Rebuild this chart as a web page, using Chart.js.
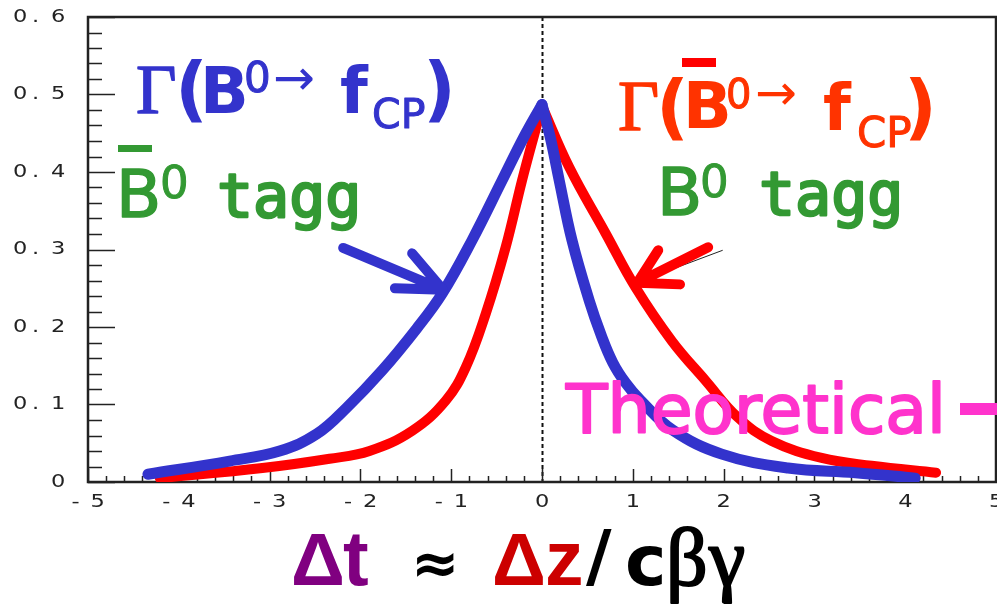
<!DOCTYPE html>
<html>
<head>
<meta charset="utf-8">
<script src="https://cdn.jsdelivr.net/npm/chart.js@4.4.1/dist/chart.umd.min.js"></script>
<style>
  html, body { margin: 0; padding: 0; background: #fff; overflow: hidden; }
  canvas { display: block; }
</style>
</head>
<body>
<canvas id="c" width="997" height="605"></canvas>
<script>
// Decay-time distributions: Γ(B0 → fCP) with B0-bar tag (blue), Γ(B0-bar → fCP) with B0 tag (red)
const dtBarTag   = [-4.34, -3.44, -2.89, -2.48, -2.15, -1.76, -1.38, -1.10, -0.77, -0.44, -0.20, 0.00, 0.10, 0.19, 0.33, 0.52, 0.65, 0.78, 0.92, 1.08, 1.44, 1.98, 2.71, 3.45, 4.11];
const rateBarTag = [0.010, 0.027, 0.040, 0.062, 0.096, 0.144, 0.198, 0.243, 0.312, 0.389, 0.445, 0.487, 0.440, 0.389, 0.312, 0.234, 0.190, 0.154, 0.128, 0.106, 0.067, 0.036, 0.018, 0.012, 0.005];

const dtTag   = [-4.21, -3.08, -2.34, -1.90, -1.43, -1.06, -0.84, -0.62, -0.40, -0.22, -0.07, 0.00, 0.30, 0.70, 1.03, 1.43, 1.80, 2.16, 2.53, 3.08, 3.63, 4.34];
const rateTag = [0.005, 0.018, 0.030, 0.040, 0.066, 0.105, 0.148, 0.217, 0.303, 0.389, 0.455, 0.485, 0.406, 0.321, 0.251, 0.182, 0.131, 0.083, 0.053, 0.031, 0.021, 0.012];

const xTickValues = [-5, -4, -3, -2, -1, 0, 1, 2, 3, 4, 5];
const xTickLabels = ['-5', '-4', '-3', '-2', '-1', '0', '1', '2', '3', '4', '5'];
const yTickValues = [0, 0.1, 0.2, 0.3, 0.4, 0.5, 0.6];
const yTickLabels = ['0', '0.1', '0.2', '0.3', '0.4', '0.5', '0.6'];

const BLUE = '#3333cc';
const RED = '#ff0000';
const ORANGE_RED = '#ff3300';
const GREEN = '#339933';
const MAGENTA = '#ff33cc';

// text helper; `heavy` adds an outline in the fill colour to thicken strokes
function put(ctx, text, x, y, font, color, heavy) {
  ctx.font = font;
  ctx.fillStyle = color;
  ctx.textAlign = 'left';
  ctx.textBaseline = 'alphabetic';
  ctx.fillText(text, x, y);
  if (heavy) {
    ctx.strokeStyle = color;
    ctx.lineWidth = heavy;
    ctx.lineJoin = 'round';
    ctx.strokeText(text, x, y);
  }
}

// spaced, slightly widened axis numbers
const LABEL_PITCH = 19;
const LABEL_GLYPH = 12;
function drawTickText(ctx, text, left, mid) {
  for (let i = 0; i < text.length; i++) {
    ctx.save();
    ctx.translate(left + i * LABEL_PITCH, mid);
    ctx.scale(1.25, 1);
    ctx.fillText(text[i], 0, 0);
    ctx.restore();
  }
}
const tickTextWidth = t => (t.length - 1) * LABEL_PITCH + LABEL_GLYPH;

const framePlugin = {
  id: 'frame',
  beforeDatasetsDraw(chart) {
    const { ctx, chartArea: a, scales: { x, y } } = chart;
    ctx.save();
    // dashed Δt = 0 line
    ctx.strokeStyle = '#111';
    ctx.lineWidth = 2;
    ctx.setLineDash([4, 3]);
    const x0 = Math.round(x.getPixelForValue(0)) + 0.5;
    ctx.beginPath();
    ctx.moveTo(x0, a.top);
    ctx.lineTo(x0, a.bottom);
    ctx.stroke();
    ctx.setLineDash([]);

    // box
    ctx.strokeStyle = '#222';
    ctx.lineWidth = 2.5;
    ctx.strokeRect(a.left, a.top, a.right - a.left, a.bottom - a.top);

    // inward ticks
    ctx.lineWidth = 1.5;
    ctx.beginPath();
    for (let i = -25; i <= 25; i++) {
      const px = Math.round(x.getPixelForValue(i / 5)) + 0.5;
      const len = (i % 5 === 0) ? 13 : 6;
      ctx.moveTo(px, a.bottom);
      ctx.lineTo(px, a.bottom - len);
    }
    for (let i = 0; i <= 30; i++) {
      const py = Math.round(y.getPixelForValue(i / 50)) + 0.5;
      const len = (i % 5 === 0) ? 27 : 14;
      ctx.moveTo(a.left, py);
      ctx.lineTo(a.left + len, py);
    }
    ctx.stroke();

    // tick labels
    ctx.fillStyle = '#222';
    ctx.font = '18px "DejaVu Sans"';
    ctx.textBaseline = 'middle';
    ctx.textAlign = 'left';
    yTickValues.forEach((v, i) => {
      const t = yTickLabels[i];
      drawTickText(ctx, t, 63 - tickTextWidth(t), y.getPixelForValue(v));
    });
    xTickValues.forEach((v, i) => {
      const t = xTickLabels[i];
      drawTickText(ctx, t, x.getPixelForValue(v) - tickTextWidth(t) / 2 - 1, a.bottom + 20);
    });
    ctx.restore();
  },
  afterDatasetsDraw(chart) {
    const { ctx, scales: { x, y } } = chart;
    ctx.save();

    // thin leftover guide line beside the red arrow
    ctx.strokeStyle = '#222';
    ctx.lineWidth = 1;
    ctx.beginPath();
    ctx.moveTo(x.getPixelForValue(1.33), y.getPixelForValue(0.270));
    ctx.lineTo(x.getPixelForValue(1.99), y.getPixelForValue(0.299));
    ctx.stroke();

    // arrows pointing at the curves (given in Δt / rate units)
    const arrow = (pts, color) => {
      const P = pts.map(p => [x.getPixelForValue(p[0]), y.getPixelForValue(p[1])]);
      ctx.strokeStyle = color;
      ctx.lineWidth = 10;
      ctx.lineCap = 'round';
      ctx.lineJoin = 'round';
      ctx.beginPath();
      ctx.moveTo(P[0][0], P[0][1]); ctx.lineTo(P[1][0], P[1][1]);
      ctx.moveTo(P[2][0], P[2][1]); ctx.lineTo(P[1][0], P[1][1]); ctx.lineTo(P[3][0], P[3][1]);
      ctx.stroke();
    };
    arrow([[-2.19, 0.302], [-1.09, 0.248], [-1.43, 0.295], [-1.62, 0.250]], BLUE);
    arrow([[1.83, 0.303], [1.05, 0.257], [1.28, 0.299], [1.52, 0.255]], RED);

    // Γ(B0 → fCP), left
    put(ctx, 'Γ', 136, 113, '70px "Liberation Serif"', BLUE, 1.5);
    put(ctx, '(', 175, 113, 'bold 72px "DejaVu Sans"', BLUE);
    put(ctx, 'B', 200, 113, 'bold 64px "DejaVu Sans"', BLUE);
    put(ctx, '0', 244, 92, '42px "DejaVu Sans"', BLUE, 1);
    put(ctx, '→', 273, 95, '50px "DejaVu Sans"', BLUE);
    put(ctx, 'f', 340, 113, 'bold 64px "DejaVu Sans"', BLUE);
    put(ctx, 'CP', 372, 128, '41px "DejaVu Sans"', BLUE, 1);
    put(ctx, ')', 423, 113, 'bold 72px "DejaVu Sans"', BLUE);

    // B0-bar tagg, left
    ctx.fillStyle = GREEN;
    ctx.fillRect(118, 145, 34, 7);
    put(ctx, 'B', 116, 217, '66px "DejaVu Sans"', GREEN, 1.5);
    put(ctx, '0', 160, 198, '45px "DejaVu Sans"', GREEN, 1);
    put(ctx, 'tagg', 217, 217, '60px "DejaVu Sans Mono"', GREEN, 2.5);

    // Γ(B0-bar → fCP), right
    ctx.fillStyle = RED;
    ctx.fillRect(682, 58, 34, 9);
    put(ctx, 'Γ', 618, 130, '71px "Liberation Serif"', ORANGE_RED, 1.5);
    put(ctx, '(', 656, 131, 'bold 72px "DejaVu Sans"', ORANGE_RED);
    put(ctx, 'B', 683, 128, 'bold 64px "DejaVu Sans"', ORANGE_RED);
    put(ctx, '0', 726, 108, '40px "DejaVu Sans"', ORANGE_RED, 1);
    put(ctx, '→', 755, 110, '50px "DejaVu Sans"', ORANGE_RED);
    put(ctx, 'f', 823, 130, 'bold 64px "DejaVu Sans"', ORANGE_RED);
    put(ctx, 'CP', 857, 147, '42px "DejaVu Sans"', ORANGE_RED, 1);
    put(ctx, ')', 904, 131, 'bold 72px "DejaVu Sans"', ORANGE_RED);

    // B0 tagg, right
    put(ctx, 'B', 657, 215, '66px "DejaVu Sans"', GREEN, 1.5);
    put(ctx, '0', 700, 197, '45px "DejaVu Sans"', GREEN, 1);
    put(ctx, 'tagg', 759, 215, '60px "DejaVu Sans Mono"', GREEN, 2.5);

    // Theoretical
    put(ctx, 'Theoretical', 566, 433, '68px "DejaVu Sans"', MAGENTA, 2);
    ctx.fillStyle = MAGENTA;
    ctx.fillRect(960, 403, 37, 12);

    // axis title Δt ≈ Δz/cβγ
    put(ctx, 'Δ', 291, 585, 'bold 75px "Liberation Sans"', '#800080');
    put(ctx, 't', 343, 585, 'bold 77px "Liberation Sans"', '#800080');
    put(ctx, '≈', 411, 583, 'bold 58px "DejaVu Sans"', '#000');
    put(ctx, 'Δ', 492, 585, 'bold 75px "Liberation Sans"', '#cc0000');
    put(ctx, 'z', 545, 585, 'bold 77px "Liberation Sans"', '#cc0000');
    put(ctx, '/', 586, 580, 'bold 70px "DejaVu Sans"', '#000');
    put(ctx, 'c', 625, 585, 'bold 70px "DejaVu Sans"', '#000');
    put(ctx, 'β', 666, 585, '82px "Liberation Serif"', '#000', 2);
    put(ctx, 'γ', 709, 585, '82px "Liberation Serif"', '#000', 2);

    ctx.restore();
  }
};

// each curve is drawn as two branches meeting at the Δt = 0 peak
const branch = (xs, ys, side) => xs
  .map((v, i) => ({ x: v, y: ys[i] }))
  .filter(p => side < 0 ? p.x <= 0 : p.x >= 0);

const curveStyle = (color, width) => ({
  borderColor: color,
  borderWidth: width,
  pointRadius: 0,
  fill: false,
  tension: 0.4,
  borderCapStyle: 'round',
  borderJoinStyle: 'round'
});

new Chart(document.getElementById('c'), {
  type: 'line',
  data: {
    datasets: [
      { label: 'Γ(B0→fCP), B0-bar tag, Δt<0', data: branch(dtBarTag, rateBarTag, -1), ...curveStyle(BLUE, 11) },
      { label: 'Γ(B0→fCP), B0-bar tag, Δt>0', data: branch(dtBarTag, rateBarTag, 1), ...curveStyle(BLUE, 11) },
      { label: 'Γ(B0-bar→fCP), B0 tag, Δt<0', data: branch(dtTag, rateTag, -1), ...curveStyle(RED, 10) },
      { label: 'Γ(B0-bar→fCP), B0 tag, Δt>0', data: branch(dtTag, rateTag, 1), ...curveStyle(RED, 10) }
    ]
  },
  options: {
    responsive: false,
    animation: false,
    devicePixelRatio: 1,
    layout: { padding: { left: 0, right: 1, top: 17, bottom: 0 } },
    plugins: { legend: { display: false }, tooltip: { enabled: false } },
    scales: {
      x: {
        type: 'linear', min: -5, max: 5,
        grid: { display: false }, border: { display: false },
        ticks: { display: false },
        afterFit(s) { s.height = 123; }
      },
      y: {
        type: 'linear', min: 0, max: 0.6,
        grid: { display: false }, border: { display: false },
        ticks: { display: false },
        afterFit(s) { s.width = 88; }
      }
    }
  },
  plugins: [framePlugin]
});
</script>
</body>
</html>
